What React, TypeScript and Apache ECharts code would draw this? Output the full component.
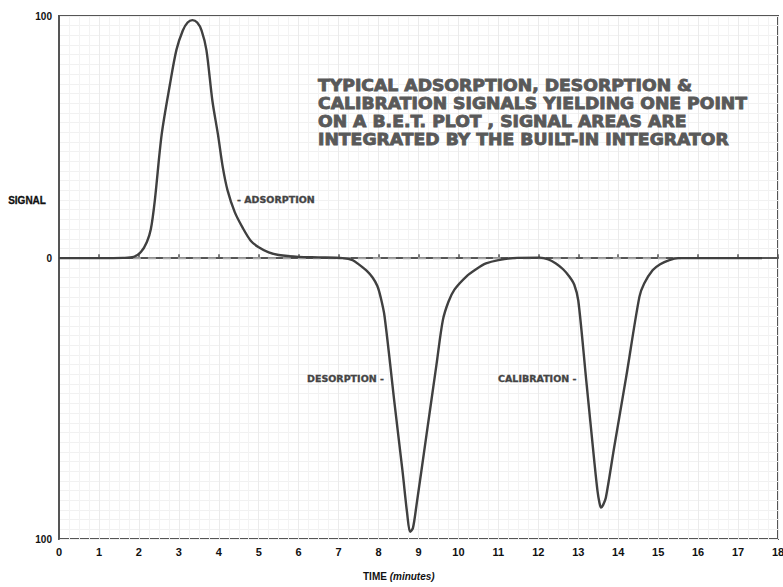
import React, { useEffect, useRef } from 'react';
import * as echarts from 'echarts';

// Time (minutes) and detector signal
const timeMin = [0, 1, 1.6, 1.87, 2.05, 2.2, 2.3, 2.4, 2.57, 2.78, 2.94, 3.1, 3.22, 3.34, 3.46, 3.57, 3.69, 3.84, 3.98, 4.1, 4.22, 4.4, 4.6, 4.8, 5.0, 5.25, 5.5, 6.0, 6.5, 7.1, 7.35, 7.53, 7.7, 7.85, 7.97, 8.05, 8.15, 8.4, 8.6, 8.72, 8.79, 8.86, 8.95, 9.2, 9.45, 9.61, 9.75, 9.9, 10.19, 10.45, 10.69, 11.0, 11.36, 12.03, 12.25, 12.44, 12.62, 12.78, 12.9, 13.0, 13.2, 13.4, 13.48, 13.53, 13.57, 13.62, 13.69, 13.9, 14.2, 14.53, 14.65, 14.86, 15.05, 15.28, 15.5, 16, 17, 17.6];
const signal = [0, 0, 0.1, 0.5, 2.5, 6.7, 12, 24, 51, 72, 86, 94, 97.3, 98.3, 97.3, 94, 86, 65, 51, 37.6, 28, 19, 12.5, 7.2, 4.5, 2.4, 1.3, 0.5, 0.3, 0, -0.8, -2.9, -5.2, -8, -11.5, -16, -24, -60, -88, -106, -113, -111.5, -102, -73, -44, -25.6, -18, -13, -7.7, -4.5, -2.2, -0.8, 0, 0.2, -0.5, -2.2, -4.6, -7.7, -11, -17.5, -50.6, -83.7, -96, -101, -103, -102, -99, -78, -49, -16, -10.5, -5, -2.5, -0.8, 0, 0, 0, 0];

// Dashed zero baseline extent (minutes)
const baselineStart = 1.85;
const baselineEnd = 15.6;

const yMin = -116;
const yMax = 100;
const yLabelValues = [yMin, 0, yMax];
const yLabelTexts = ['100', '0', '100'];

const titleLines = [
  'TYPICAL ADSORPTION, DESORPTION &',
  'CALIBRATION SIGNALS YIELDING ONE POINT',
  'ON A B.E.T. PLOT , SIGNAL AREAS ARE',
  'INTEGRATED BY THE BUILT-IN INTEGRATOR',
];

const FONT = '"Liberation Sans", "DejaVu Sans", Arial, sans-serif';
const HEAVY = '"DejaVu Sans", "Liberation Sans", sans-serif';

export default function App() {
  const ref = useRef<HTMLDivElement>(null);
  useEffect(() => {
    const chart = echarts.init(ref.current!, null, { renderer: 'svg' });
    const curve = timeMin.map((t, i) => [t, signal[i]]);
    const option: any = {
      animation: false,
      backgroundColor: '#ffffff',
      grid: {
        left: 59,
        top: 16,
        right: 5,
        bottom: 48,
        show: true,
        borderColor: '#555',
        borderWidth: 2,
        containLabel: false,
        outerBoundsMode: 'none',
      },
      xAxis: {
        type: 'value',
        min: 0,
        max: 18,
        interval: 1,
        axisLine: { show: true, lineStyle: { color: '#555', width: 2 } },
        axisTick: { show: true, inside: true, length: 4, lineStyle: { color: '#555', width: 1.5 } },
        axisLabel: {
          margin: 7,
          fontFamily: FONT,
          fontWeight: 'bold',
          fontSize: 11,
          color: '#111',
        },
        splitLine: { show: true, lineStyle: { color: '#ebebeb', width: 1 } },
        minorTick: { show: false, splitNumber: 4 },
        minorSplitLine: { show: true, lineStyle: { color: '#f3f3f3', width: 1 } },
      },
      yAxis: {
        type: 'value',
        min: yMin,
        max: yMax,
        interval: 4,
        axisLine: { show: true, lineStyle: { color: '#555', width: 2 } },
        axisTick: { show: false },
        axisLabel: {
          customValues: yLabelValues,
          margin: 7,
          fontFamily: FONT,
          fontWeight: 'bold',
          fontSize: 10,
          color: '#111',
          formatter: (v: number) => {
            const idx = yLabelValues.indexOf(v);
            return idx >= 0 ? yLabelTexts[idx] : '';
          },
        },
        splitLine: { show: true, lineStyle: { color: '#f1f1f1', width: 1 } },
      },
      series: [
        {
          type: 'line',
          data: [[baselineStart, 0], [baselineEnd, 0]],
          symbol: 'none',
          silent: true,
          z: 1,
          lineStyle: { color: '#a8a8a8', width: 2, type: [8, 7] },
        },
        {
          type: 'line',
          data: curve,
          symbol: 'none',
          smooth: 0.3,
          z: 3,
          lineStyle: { color: '#404040', width: 2.4 },
        },
      ],
      graphic: [
        {
          type: 'text',
          left: 8,
          top: 195,
          z: 100,
          style: { text: 'SIGNAL', font: `bold 10px ${FONT}`, fill: '#111', stroke: '#111', lineWidth: 0.3 },
        },
        {
          type: 'text',
          left: 363,
          top: 571,
          z: 100,
          style: {
            text: '{b|TIME }{i|(minutes)}',
            rich: {
              b: { font: `bold 10px ${FONT}`, fill: '#111' },
              i: { font: `italic bold 10px ${FONT}`, fill: '#111' },
            },
          },
        },
        {
          type: 'text',
          x: 237,
          y: 196,
          scaleX: 1.12,
          z: 100,
          style: { text: '- ADSORPTION', font: `bold 8.5px ${HEAVY}`, fill: '#444', stroke: '#444', lineWidth: 0.3 },
        },
        {
          type: 'text',
          x: 307,
          y: 375,
          scaleX: 1.12,
          z: 100,
          style: { text: 'DESORPTION -', font: `bold 8.5px ${HEAVY}`, fill: '#444', stroke: '#444', lineWidth: 0.3 },
        },
        {
          type: 'text',
          x: 498,
          y: 375,
          scaleX: 1.12,
          z: 100,
          style: { text: 'CALIBRATION -', font: `bold 8.5px ${HEAVY}`, fill: '#444', stroke: '#444', lineWidth: 0.3 },
        },
        ...titleLines.map((line, i) => ({
          type: 'text',
          x: 318,
          y: 78 + i * 18,
          scaleX: 1.15,
          z: 100,
          style: {
            text: line,
            font: `bold 15px ${HEAVY}`,
            fill: '#595959',
            stroke: '#595959',
            lineWidth: 0.8,
          },
        })),
      ],
    };
    chart.setOption(option);
    return () => chart.dispose();
  }, []);
  return (
    <div
      ref={ref}
      style={{ position: 'fixed', left: 0, top: 0, width: 783, height: 587 }}
    />
  );
}
